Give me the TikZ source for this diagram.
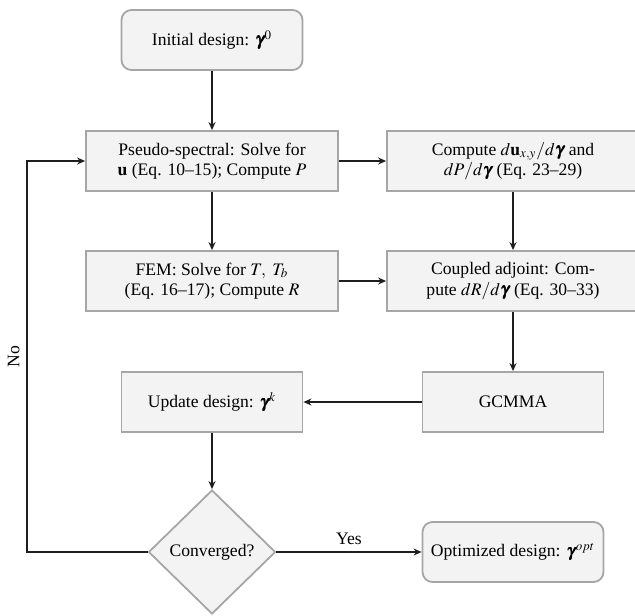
\documentclass[tikz,border=0pt]{standalone}
\usepackage{amsmath}
\usepackage{mathptmx}
\usepackage{bm}
\usepackage{fontspec}
\setmainfont{Liberation Serif}
\usepackage{tikz}
\usetikzlibrary{shapes, shapes.geometric, arrows.meta, positioning, calc}
\definecolor{boxfill}{RGB}{243, 243, 243}
\definecolor{boxline}{RGB}{166, 166, 166}
\definecolor{arrline}{RGB}{30, 30, 30}
\begin{document}
\begin{tikzpicture}[
  x=0.5pt, y=-0.5pt,
  font=\fontsize{8.8}{10.3}\selectfont,
  fbox/.style={draw=boxline, fill=boxfill, line width=0.9pt, minimum width=126pt, minimum height=30pt, align=center, inner sep=2pt},
  rbox/.style={fbox, rounded corners=5pt, minimum width=90.5pt},
  sbox/.style={fbox, minimum width=90.5pt},
  dbox/.style={draw=boxline, fill=boxfill, line width=0.9pt, diamond, minimum width=63.5pt, minimum height=62pt, inner sep=0pt},
  arr/.style={draw=arrline, line width=0.8pt, -{Stealth[length=4pt, width=3.5pt]}}
]
  \useasboundingbox (0,0) rectangle (635,615);
  \node[rbox] (init) at (212, 40) {Initial design: $\bm{\gamma}^0$};
  \node[fbox] (pseudo) at (212, 161) {Pseudo-spectral: Solve for\\$\mathbf{u}$ (Eq. 10--15); Compute $P$};
  \node[fbox] (dudg) at (513, 161) {Compute $d\mathbf{u}_{x,y}/d\bm{\gamma}$ and\\$dP/d\bm{\gamma}$ (Eq. 23--29)};
  \node[fbox] (fem) at (212, 281) {FEM: Solve for $T,\ T_b$\\(Eq. 16--17); Compute $R$};
  \node[fbox] (adj) at (513, 281) {Coupled adjoint: Com-\\pute $dR/d\bm{\gamma}$ (Eq. 30--33)};
  \node[sbox] (update) at (212, 402) {Update design: $\bm{\gamma}^k$};
  \node[sbox] (gcmma) at (513, 402) {GCMMA};
  \node[dbox] (conv) at (212, 552) {Converged?};
  \node[rbox] (opt) at (513, 552) {Optimized design: $\bm{\gamma}^{opt}$};
  \coordinate (back) at (27, 552);
  \draw[arr] (init) -- (pseudo);
  \draw[arr] (pseudo) -- (dudg);
  \draw[arr] (pseudo) -- (fem);
  \draw[arr] (dudg) -- (adj);
  \draw[arr] (fem) -- (adj);
  \draw[arr] (adj) -- (gcmma);
  \draw[arr] (gcmma) -- (update);
  \draw[arr] (update) -- (conv);
  \draw[arr] (conv) -- node[above] {Yes} (opt);
  \draw[arr] (conv.west) -- (back) |- node[pos=0.25, sloped, above] {No} (pseudo.west);
\end{tikzpicture}
\end{document}
